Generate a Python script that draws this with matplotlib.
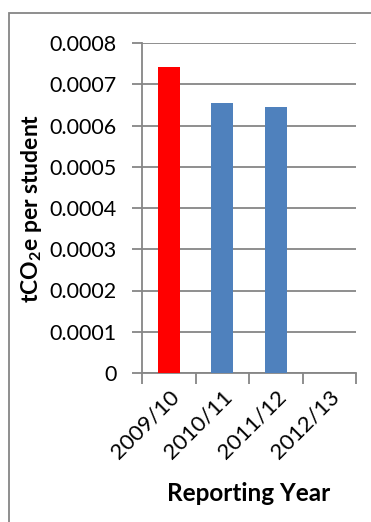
import matplotlib.pyplot as plt
from matplotlib.patches import Rectangle
from matplotlib.ticker import FixedLocator

years = ["2009/10", "2010/11", "2011/12", "2012/13"]
values = [0.000742, 0.000654, 0.000644, None]
bar_colors = ["#FF0000", "#4F81BD", "#4F81BD", "#4F81BD"]
y_ticks = [0, 0.0001, 0.0002, 0.0003, 0.0004, 0.0005, 0.0006, 0.0007, 0.0008]
y_labels = ["0", "0.0001", "0.0002", "0.0003", "0.0004", "0.0005", "0.0006", "0.0007", "0.0008"]

plt.rcParams['font.family'] = ['Lato', 'DejaVu Sans']
plt.rcParams['mathtext.fontset'] = 'custom'
plt.rcParams['mathtext.rm'] = 'Lato'
plt.rcParams['mathtext.bf'] = 'Lato:bold'
grey = "#868686"

fig = plt.figure(figsize=(3.71, 5.22), dpi=100)
ax = fig.add_axes([142/371, 1 - 373/522, (356 - 142)/371, (373 - 43)/522])

# outer chart border (cut off at right and bottom like the original)
fig.patches.append(Rectangle((9/371, -0.1), 1.2, 1 - 13/522 + 0.1,
                             transform=fig.transFigure, fill=False,
                             edgecolor=grey, linewidth=1.3))

xs = list(range(len(years)))
for x, v, c in zip(xs, values, bar_colors):
    if v is not None:
        ax.bar(x, v, width=0.41, color=c, zorder=3)

ax.set_xlim(-0.5, len(years) - 0.5)
ax.set_ylim(0, 0.0008)
ax.set_yticks(y_ticks)
ax.set_yticklabels(y_labels, fontsize=15.5)
ax.yaxis.grid(True, color=grey, linewidth=1.3)
ax.set_axisbelow(True)

ax.set_xticks(xs)
ax.set_xticklabels(years, rotation=45, ha="right", va="top",
                   rotation_mode="anchor", fontsize=16)
ax.tick_params(axis="x", length=0, pad=10)
ax.xaxis.set_minor_locator(FixedLocator([i - 0.5 for i in range(len(years) + 1)]))
ax.tick_params(axis="x", which="minor", length=8, width=1.3, color=grey)
ax.tick_params(axis="y", length=7, width=1.3, color=grey, pad=11)

for s in ["top", "right"]:
    ax.spines[s].set_visible(False)
for s in ["left", "bottom"]:
    ax.spines[s].set_color(grey)
    ax.spines[s].set_linewidth(1.3)

ax.set_ylabel(r"tCO$_\mathbf{2}$e per student", fontsize=16.5, fontweight="bold", labelpad=4)
ax.set_xlabel("Reporting Year", fontsize=17.5, fontweight="bold", labelpad=14)

fig.savefig("out.png", dpi=100)
